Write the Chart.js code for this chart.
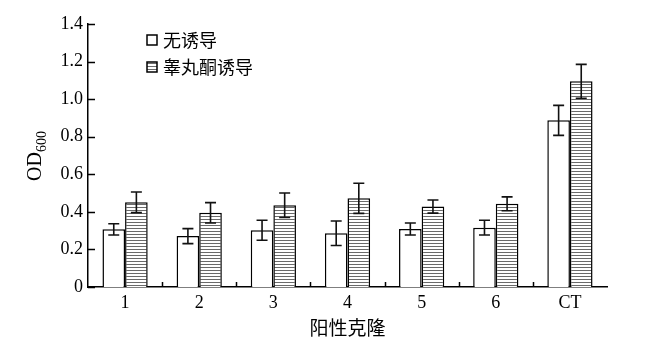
<!DOCTYPE html>
<html>
<head>
<meta charset="utf-8">
<script src="https://cdn.jsdelivr.net/npm/chart.js@4.4.0/dist/chart.umd.min.js"></script>
<style>
  body { margin: 0; background: #fff; }
  #wrap { width: 649px; height: 350px; }
</style>
</head>
<body>
<div id="wrap"><canvas id="odChart"></canvas></div>
<script>
// data
const categories = ["1", "2", "3", "4", "5", "6", "CT"];
const noInduction = [0.307, 0.271, 0.302, 0.286, 0.309, 0.316, 0.887];
const noInductionErr = [0.03, 0.04, 0.053, 0.065, 0.032, 0.039, 0.08];
const testosterone = [0.451, 0.395, 0.435, 0.472, 0.428, 0.443, 1.095];
const testosteroneErr = [0.055, 0.054, 0.065, 0.08, 0.035, 0.037, 0.09];
const yTicks = [0, 0.2, 0.4, 0.6, 0.8, 1.0, 1.2, 1.4];

const serif = '"Liberation Serif", "DejaVu Serif", serif';
const cjk = '"Noto Sans CJK SC", "Noto Sans", sans-serif';

//horizontal stripe fill for the second series
function stripes() {
  const c = document.createElement("canvas");
  c.width = 4;
  c.height = 3;
  const g = c.getContext("2d");
  g.fillStyle = "#fff";
  g.fillRect(0, 0, 4, 3);
  g.fillStyle = "#6a6a6a";
  g.fillRect(0, 0, 4, 1);
  return g.createPattern(c, "repeat");
}
const stripeFill = stripes();

//error bars, inward ticks, legend and y title
const extras = {
  id: "extras",
  afterDatasetsDraw(chart) {
    const ctx = chart.ctx;
    const y = chart.scales.y;
    const errs = [noInductionErr, testosteroneErr];
    ctx.save();
    ctx.strokeStyle = "#111";
    ctx.lineWidth = 1.6;
    chart.data.datasets.forEach((ds, d) => {
      chart.getDatasetMeta(d).data.forEach((bar, i) => {
        const top = y.getPixelForValue(ds.data[i] + errs[d][i]);
        const bot = y.getPixelForValue(ds.data[i] - errs[d][i]);
        ctx.beginPath();
        ctx.moveTo(bar.x, top);
        ctx.lineTo(bar.x, bot);
        ctx.moveTo(bar.x - 5.5, top);
        ctx.lineTo(bar.x + 5.5, top);
        ctx.moveTo(bar.x - 5.5, bot);
        ctx.lineTo(bar.x + 5.5, bot);
        ctx.stroke();
      });
    });
    ctx.restore();
  },
  afterDraw(chart) {
    const ctx = chart.ctx;
    const area = chart.chartArea;
    const x = chart.scales.x;
    const y = chart.scales.y;
    ctx.save();
    ctx.strokeStyle = "#000";
    ctx.lineWidth = 1.5;
    ctx.beginPath();
    yTicks.forEach((v) => {
      const py = Math.round(y.getPixelForValue(v)) + 0.5;
      ctx.moveTo(area.left, py);
      ctx.lineTo(area.left + 7, py);
    });
    const step = x.getPixelForValue(1) - x.getPixelForValue(0);
    for (let i = 1; i < categories.length; i++) {
      const px = Math.round(x.getPixelForValue(i) - step / 2) + 0.5;
      ctx.moveTo(px, area.bottom);
      ctx.lineTo(px, area.bottom - 5);
    }
    ctx.stroke();

    //legend
    chart.data.datasets.forEach((ds, d) => {
      const ly = 35 + d * 27;
      ctx.fillStyle = ds.backgroundColor;
      ctx.fillRect(147, ly, 10, 10);
      ctx.lineWidth = 1.5;
      ctx.strokeRect(147, ly, 10, 10);
      ctx.fillStyle = "#000";
      ctx.font = "18px " + cjk;
      ctx.textBaseline = "middle";
      ctx.textAlign = "left";
      ctx.fillText(ds.label, 163, ly + 5);
    });

    //y title OD with subscript 600
    ctx.translate(36, 156);
    ctx.rotate(-Math.PI / 2);
    ctx.font = "20px " + serif;
    const w1 = ctx.measureText("OD").width;
    ctx.font = "14px " + serif;
    const w2 = ctx.measureText("600").width;
    const start = -(w1 + w2) / 2;
    ctx.textBaseline = "middle";
    ctx.font = "20px " + serif;
    ctx.fillText("OD", start, 0);
    ctx.font = "14px " + serif;
    ctx.fillText("600", start + w1, 6);
    ctx.restore();
  },
};

new Chart("odChart", {
  type: "bar",
  data: {
    labels: categories,
    datasets: [
      {
        label: "无诱导",
        data: noInduction,
        backgroundColor: "#fff",
        borderColor: "#000",
        borderWidth: 1.5,
      },
      {
        label: "睾丸酮诱导",
        data: testosterone,
        backgroundColor: stripeFill,
        borderColor: "#000",
        borderWidth: 1.5,
      },
    ],
  },
  options: {
    responsive: true,
    maintainAspectRatio: false,
    animation: false,
    categoryPercentage: 0.61,
    barPercentage: 1.0,
    layout: { padding: { top: 24, right: 42, left: 0, bottom: 0 } },
    plugins: {
      legend: { display: false },
      tooltip: { enabled: false },
    },
    scales: {
      x: {
        grid: { display: false, drawTicks: false },
        border: { display: true, color: "#000", width: 1.5 },
        ticks: { color: "#000", font: { family: serif, size: 18 }, padding: 5 },
        title: {
          display: true,
          text: "阳性克隆",
          color: "#000",
          font: { family: cjk, size: 19 },
          padding: { top: 0, bottom: 11 },
        },
        afterFit(scale) {
          scale.height = 63;
        },
      },
      y: {
        min: 0,
        max: 1.4,
        grid: { display: false, drawTicks: false },
        border: { display: true, color: "#000", width: 1.5 },
        afterBuildTicks(scale) {
          scale.ticks = yTicks.map((v) => ({ value: v }));
        },
        ticks: {
          color: "#000",
          font: { family: serif, size: 18 },
          padding: 5,
          callback: (v) => (v === 0 ? "0" : v.toFixed(1)),
        },
        afterFit(scale) {
          scale.width = 88;
        },
      },
    },
  },
  plugins: [extras],
});
</script>
</body>
</html>
